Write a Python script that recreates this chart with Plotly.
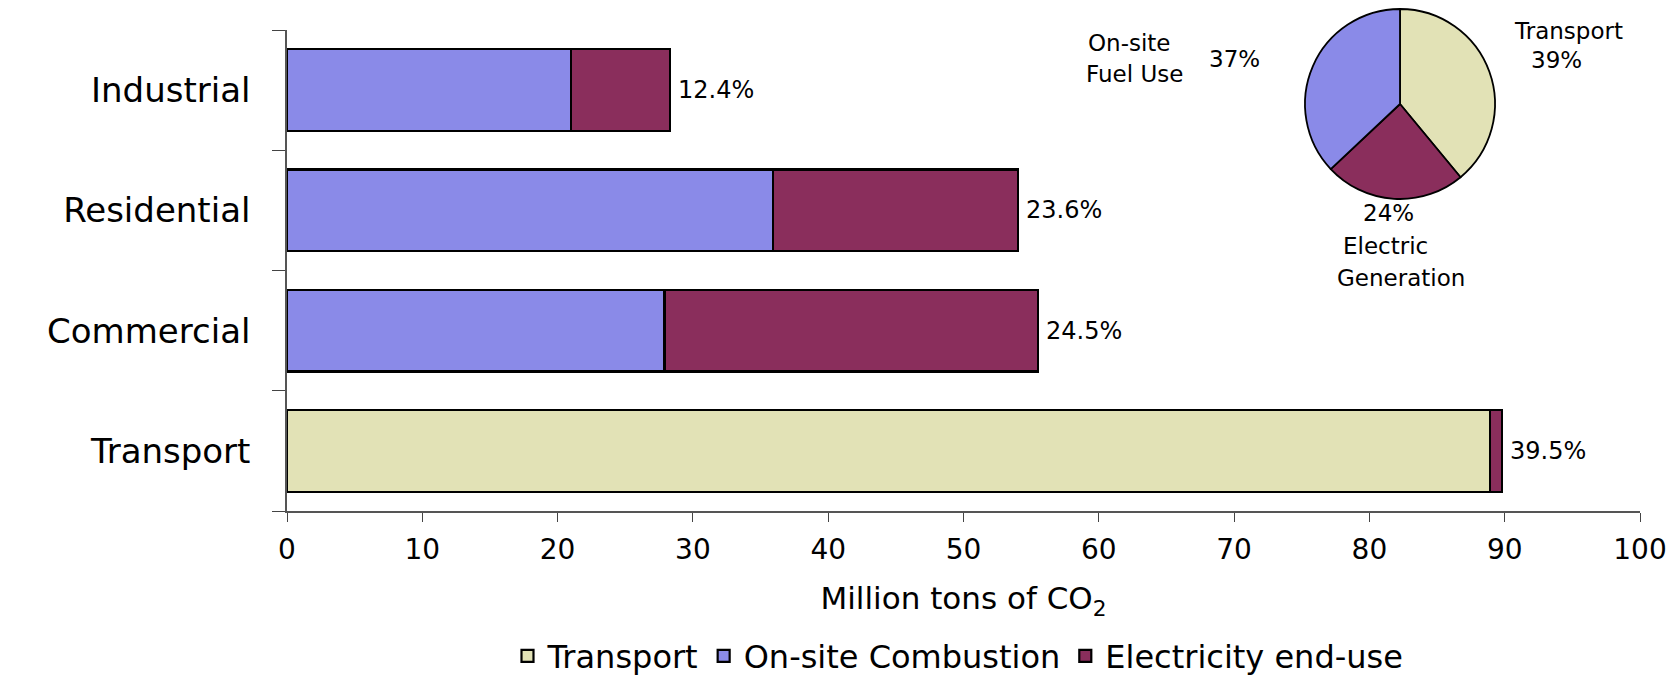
import plotly.graph_objects as go

# ---- data ----
categories = ["Transport", "Commercial", "Residential", "Industrial"]
transport_vals = [88.9, None, None, None]
onsite_vals = [None, 27.9, 35.9, 21.0]
electricity_vals = [0.9, 27.6, 18.1, 7.3]
share_labels = ["39.5%", "24.5%", "23.6%", "12.4%"]

pie_labels = ["Transport", "Electric Generation", "On-site Fuel Use"]
pie_values = [39, 24, 37]

series_names = ["Transport", "On-site Combustion", "Electricity end-use"]
x_ticks = [0, 10, 20, 30, 40, 50, 60, 70, 80, 90, 100]

# ---- style ----
FONT = "DejaVu Sans"
C_TRANS = "#E2E2B6"
C_ONSITE = "#8A8AE8"
C_ELEC = "#8A2E5C"
OFF = 8  # page body margin
W, H = 1675 - OFF, 681 - OFF

def fx(px):
    return (px - OFF) / W

def fy(py):
    return (H - (py - OFF)) / H

totals = []
for t, o, e in zip(transport_vals, onsite_vals, electricity_vals):
    totals.append((t or 0) + (o or 0) + (e or 0))

fig = go.Figure()
line = dict(color="black", width=2.2)
fig.add_trace(go.Bar(y=categories, x=transport_vals, orientation="h", name=series_names[0],
                     marker=dict(color=C_TRANS, line=line)))
fig.add_trace(go.Bar(y=categories, x=onsite_vals, orientation="h", name=series_names[1],
                     marker=dict(color=C_ONSITE, line=line)))
fig.add_trace(go.Bar(y=categories, x=electricity_vals, orientation="h", name=series_names[2],
                     marker=dict(color=C_ELEC, line=line)))

pr = 95
pcx, pcy = 1400, 104
fig.add_trace(go.Pie(labels=pie_labels, values=pie_values, sort=False, direction="clockwise",
                     rotation=0, textinfo="none", showlegend=False,
                     marker=dict(colors=[C_TRANS, C_ELEC, C_ONSITE], line=dict(color="black", width=1.8)),
                     domain=dict(x=[fx(pcx - pr), fx(pcx + pr)], y=[fy(pcy + pr), fy(pcy - pr)])))

ann = []
for cat, tot, lab in zip(categories, totals, share_labels):
    ann.append(dict(text=lab, x=tot, y=cat, xref="x", yref="y", showarrow=False,
                    xanchor="left", yanchor="middle", xshift=6,
                    font=dict(family=FONT, size=24, color="black")))

def add_text(txt, x, y, size=23, xanchor="center"):
    ann.append(dict(text=txt, x=fx(x), y=fy(y), xref="paper", yref="paper", showarrow=False,
                    xanchor=xanchor, yanchor="middle", font=dict(family=FONT, size=size, color="black")))

add_text("On-site", 1129, 43)
add_text("Fuel Use", 1134, 74)
add_text("37%", 1207, 59, xanchor="left")
add_text("Transport", 1568, 31)
add_text("39%", 1556, 60)
add_text("24%", 1388, 213)
add_text("Electric", 1385, 246)
add_text("Generation", 1401, 278)

fig.update_layout(
    width=W, height=H,
    margin=dict(l=0, r=0, t=0, b=0, autoexpand=False),
    paper_bgcolor="white", plot_bgcolor="white",
    barmode="stack", bargap=0.32,
    font=dict(family=FONT, color="black"),
    annotations=ann,
    legend=dict(orientation="h", x=fx(958), xanchor="center", y=fy(656), yanchor="middle",
                font=dict(family=FONT, size=32), traceorder="normal"),
    xaxis=dict(domain=[fx(287), fx(1640)], range=[0, 100], tickvals=x_ticks, ticks="outside",
               ticklen=9, tickcolor="#444", showgrid=False, zeroline=False, showline=True,
               linecolor="#555", linewidth=1.5, tickfont=dict(family=FONT, size=28),
               automargin=False, ticklabelstandoff=4,
               title=dict(text="Million tons of CO<sub>2</sub>", font=dict(family=FONT, size=31),
                          standoff=22)),
    yaxis=dict(domain=[fy(511), fy(30)], type="category", categoryorder="array",
               categoryarray=categories, ticks="outside", tickson="boundaries", ticklen=13,
               tickcolor="#444", showgrid=False, zeroline=False, showline=True,
               linecolor="#555", linewidth=1.5, tickfont=dict(family=FONT, size=34),
               ticklabelstandoff=28, automargin=False),
)

fig.write_html("out.html")
